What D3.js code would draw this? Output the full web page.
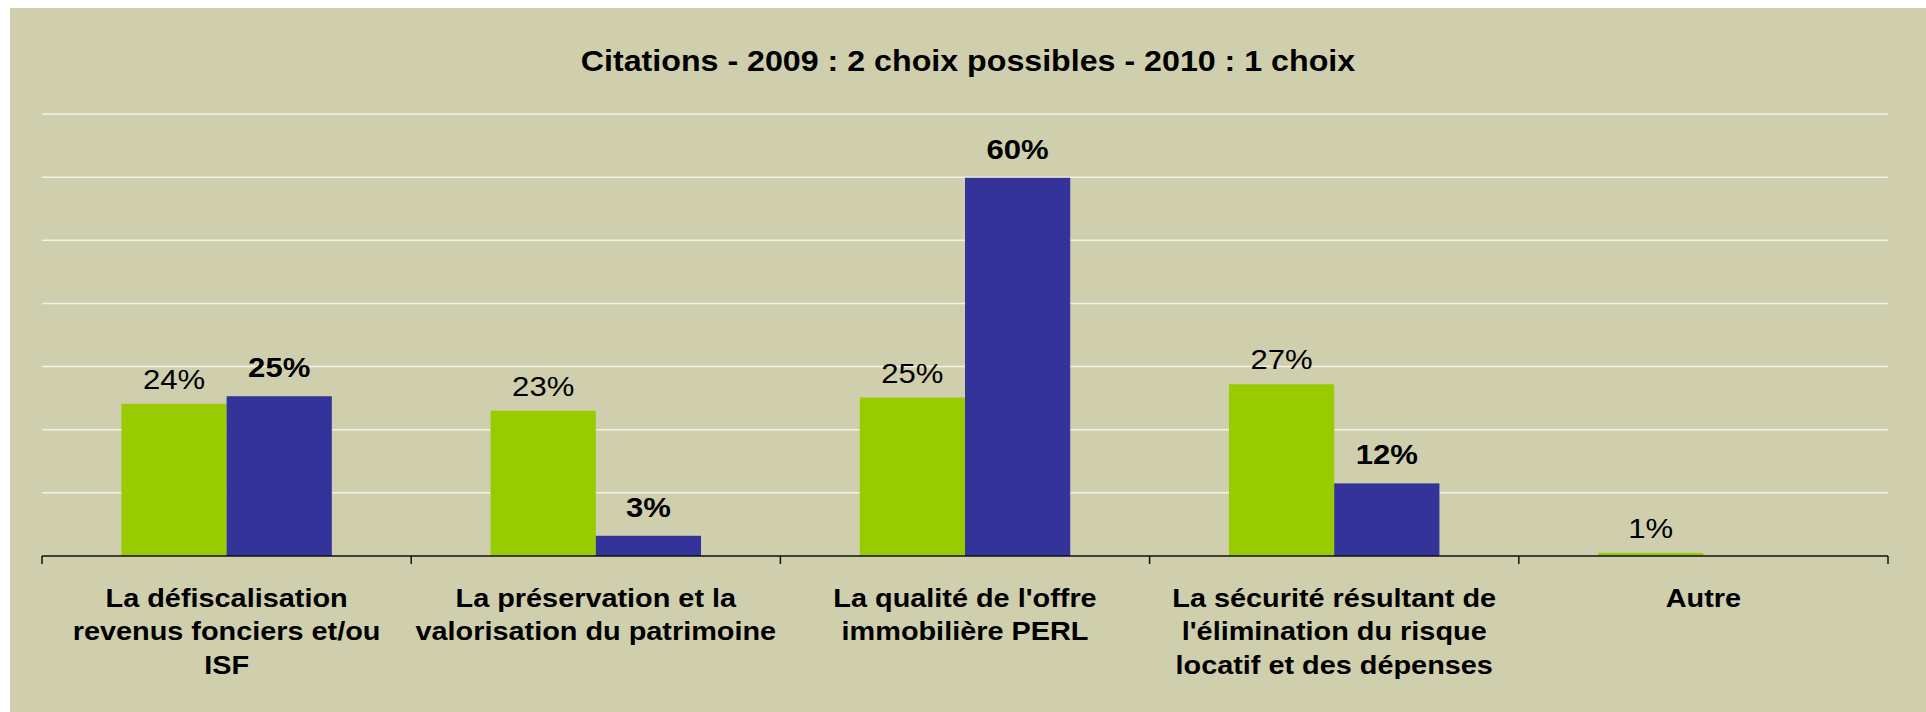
<!DOCTYPE html>
<html>
<head>
<meta charset="utf-8">
<title>Citations 2009 / 2010</title>
<script src="https://cdn.jsdelivr.net/npm/d3@7"></script>
<style>
    body { margin: 0; background: #ffffff; }
    svg text { font-family: "Liberation Sans", Arial, sans-serif; fill: #000; }
</style>
</head>
<body>
<svg id="chart" width="1926" height="712"></svg>
<script>
    "use strict";

    var titleText = "Citations - 2009 : 2 choix possibles - 2010 : 1 choix";
    var categories = [
        "La défiscalisation\nrevenus fonciers et/ou\nISF",
        "La préservation et la\nvalorisation du patrimoine",
        "La qualité de l'offre\nimmobilière PERL",
        "La sécurité résultant de\nl'élimination du risque\nlocatif et des dépenses",
        "Autre"
    ];
    var seriesNames = ["2009", "2010"];
    var values2009 = [24.1, 23.0, 25.1, 27.2, 0.5];
    var values2010 = [25.3, 3.2, 59.9, 11.5, null];
    var yTicks = [0, 10, 20, 30, 40, 50, 60, 70];

    var colors = {"2009": "#99cc00", "2010": "#333399"};
    // the source picture is a bit wider than tall, text included
    var stretchX = 1.11;

    var svg = d3.select("#chart");
    var width = 1926, height = 712;
    var plot = {left: 42, right: 1888, top: 114, bottom: 556};

    svg.append("rect")
        .attr("x", 10).attr("y", 8)
        .attr("width", width - 10).attr("height", height - 8)
        .attr("fill", "#cfcfad");

    var x0 = d3.scaleBand()
        .domain(categories)
        .range([plot.left, plot.right])
        .paddingInner(0.43)
        .paddingOuter(0.215);

    var x1 = d3.scaleBand()
        .domain(seriesNames)
        .range([0, x0.bandwidth()]);

    var y = d3.scaleLinear()
        .domain([0, 70])
        .range([plot.bottom, plot.top]);

    // gridlines
    svg.append("g").selectAll("line")
        .data(yTicks.filter(function (d) { return d > 0; }))
        .join("line")
        .attr("x1", plot.left).attr("x2", plot.right)
        .attr("y1", function (d) { return y(d); })
        .attr("y2", function (d) { return y(d); })
        .attr("stroke", "#f2f2e6")
        .attr("stroke-width", 1.5);

    var rows = categories.map(function (c, i) {
        return [
            {cat: c, series: "2009", value: values2009[i]},
            {cat: c, series: "2010", value: values2010[i]}
        ];
    });
    var bars = d3.merge(rows).filter(function (d) { return d.value !== null; });

    svg.append("g").selectAll("rect")
        .data(bars)
        .join("rect")
        .attr("x", function (d) { return x0(d.cat) + x1(d.series); })
        .attr("width", x1.bandwidth())
        .attr("y", function (d) { return y(d.value); })
        .attr("height", function (d) { return y(0) - y(d.value); })
        .attr("fill", function (d) { return colors[d.series]; });

    // value labels, 2010 ones in bold
    svg.append("g").selectAll("text")
        .data(bars)
        .join("text")
        .attr("transform", function (d) {
            var cx = x0(d.cat) + x1(d.series) + x1.bandwidth() / 2,
                cy = y(d.value) - (d.series === "2010" ? 19 : 15);
            return "translate(" + cx + "," + cy + ") scale(" + stretchX + ",1)";
        })
        .attr("text-anchor", "middle")
        .style("font-size", "28px")
        .style("font-weight", function (d) { return d.series === "2010" ? "bold" : "normal"; })
        .text(function (d) { return Math.round(d.value) + "%"; });

    // x axis line and category boundary ticks
    var axis = svg.append("g");
    axis.append("line")
        .attr("x1", plot.left).attr("x2", plot.right)
        .attr("y1", y(0)).attr("y2", y(0))
        .attr("stroke", "#111")
        .attr("stroke-width", 1.5);
    axis.selectAll("line.tick")
        .data(d3.range(categories.length + 1))
        .join("line")
        .attr("class", "tick")
        .attr("x1", function (i) { return plot.left + i * x0.step(); })
        .attr("x2", function (i) { return plot.left + i * x0.step(); })
        .attr("y1", y(0)).attr("y2", y(0) + 8)
        .attr("stroke", "#111")
        .attr("stroke-width", 1.5);

    var catLabels = axis.selectAll("text.cat")
        .data(categories)
        .join("text")
        .attr("class", "cat")
        .attr("transform", function (d) {
            return "translate(" + (x0(d) + x0.bandwidth() / 2) + "," + (y(0) + 51) + ") scale(" + stretchX + ",1)";
        })
        .attr("text-anchor", "middle")
        .style("font-size", "26px")
        .style("font-weight", "bold");
    catLabels.selectAll("tspan")
        .data(function (d) { return d.split("\n"); })
        .join("tspan")
        .attr("x", 0)
        .attr("y", function (d, i) { return i * 33.5; })
        .text(function (d) { return d; });

    svg.append("text")
        .attr("transform", "translate(968,71) scale(" + stretchX + ",1)")
        .attr("text-anchor", "middle")
        .style("font-size", "29px")
        .style("font-weight", "bold")
        .text(titleText);
</script>
</body>
</html>
